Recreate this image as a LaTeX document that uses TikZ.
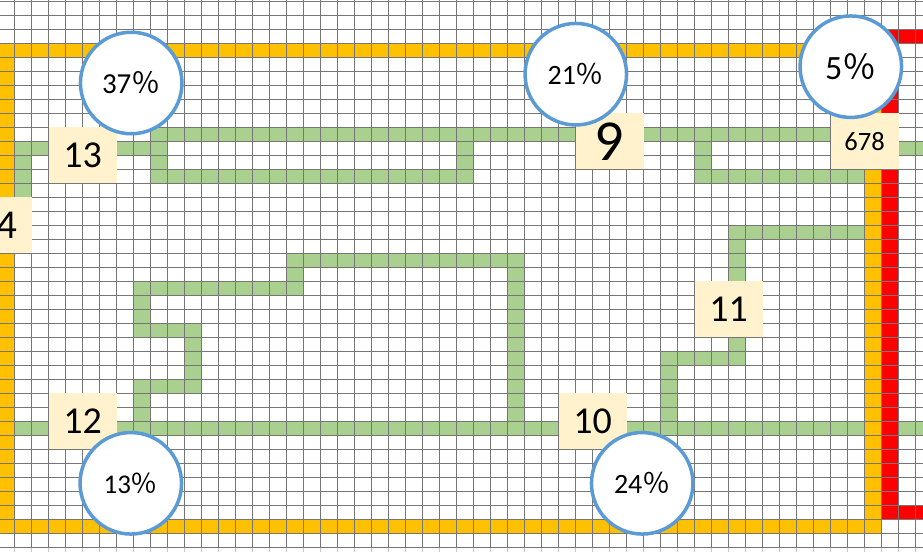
\documentclass[tikz,border=0pt]{standalone}
\usepackage{fontspec}
\setmainfont{Carlito}
\newfontfamily\cjkfont{Noto Sans CJK JP}
\definecolor{orng}{RGB}{255,192,0}
\definecolor{grn}{RGB}{169,208,142}
\definecolor{cream}{RGB}{255,242,204}
\definecolor{gridc}{RGB}{118,118,118}
\definecolor{circb}{RGB}{91,155,213}
\definecolor{redc}{RGB}{255,0,0}
\newcommand\cells[5]{\fill[#1] ({14.6+17*((#2)-1)},{1.3+14*(#4)}) rectangle ({14.6+17*(#3)},{1.3+14*((#5)+1)});}
\newcommand\pct{{\cjkfont ％}}
\begin{document}
\begin{tikzpicture}[x=1pt,y=-1pt,
  lbl/.style={fill=cream, inner sep=0pt, minimum width=68pt, minimum height=56pt, text=black},
  circ/.style={circle, draw=circb, line width=3.5pt, fill=white, minimum size=101.5pt, inner sep=0pt, text=black},
  gridline/.style={gridc, line width=1pt}]
\useasboundingbox (0,0) rectangle (923,552);
\clip (0,0) rectangle (923,552);
\fill[white] (0,0) rectangle (923,552);
% orange frame
\cells{orng}{0}{51}{3}{3}
\cells{orng}{0}{0}{3}{37}
\cells{orng}{0}{51}{37}{37}
\cells{orng}{51}{51}{3}{37}
% red frame
\cells{redc}{52}{54}{2}{2}
\cells{redc}{52}{52}{2}{36}
\cells{redc}{52}{54}{36}{36}
% green paths
\cells{grn}{1}{2}{10}{10}
\cells{grn}{1}{1}{10}{13}
\cells{grn}{7}{8}{10}{10}
\cells{grn}{9}{9}{9}{12}
\cells{grn}{9}{33}{9}{9}
\cells{grn}{9}{27}{12}{12}
\cells{grn}{27}{27}{9}{12}
\cells{grn}{38}{48}{9}{9}
\cells{grn}{41}{41}{9}{12}
\cells{grn}{41}{50}{12}{12}
\cells{grn}{53}{54}{10}{10}
\cells{grn}{43}{50}{16}{16}
\cells{grn}{43}{43}{16}{19}
\cells{grn}{43}{43}{24}{25}
\cells{grn}{39}{43}{25}{25}
\cells{grn}{39}{39}{25}{30}
\cells{grn}{37}{50}{30}{30}
\cells{grn}{53}{54}{30}{30}
\cells{grn}{1}{2}{30}{30}
\cells{grn}{7}{32}{30}{30}
\cells{grn}{8}{8}{27}{30}
\cells{grn}{8}{11}{27}{27}
\cells{grn}{11}{11}{23}{27}
\cells{grn}{8}{11}{23}{23}
\cells{grn}{8}{8}{20}{23}
\cells{grn}{8}{17}{20}{20}
\cells{grn}{17}{17}{18}{20}
\cells{grn}{17}{30}{18}{18}
\cells{grn}{30}{30}{18}{30}
% grid
\foreach \k in {0,...,53} \draw[gridline] ({14.6+17*\k},0) -- ({14.6+17*\k},552);
\foreach \j in {0,...,39} \draw[gridline] (0,{1.3+14*\j}) -- (923,{1.3+14*\j});
\fill[white,opacity=0.6] (0,548) rectangle (923,552);
% labels
\node[lbl, font=\fontsize{38}{40}\selectfont] (n13) at (82.6,155.3) {13};
\node[lbl, font=\fontsize{38}{40}\selectfont] (n12) at (82.6,421.3) {12};
\node[lbl, font=\fontsize{38}{40}\selectfont] (n10) at (592.6,421.3) {10};
\node[lbl, font=\fontsize{38}{40}\selectfont] (n11) at (728.6,309.3) {11};
\node[lbl, font=\fontsize{58}{60}\selectfont] (n9) at (609.6,141.3) {9};
\node[lbl, font=\fontsize{26.5}{28}\selectfont] (n678) at (864.6,141.3) {678};
\node[lbl, minimum width=49pt, font=\fontsize{41}{43}\selectfont] (n4) at (7.1,225.3) {4};
% circles
\node[circ, font=\fontsize{29}{31}\selectfont] (c37) at (131.2,83) {37\pct};
\node[circ, font=\fontsize{28}{30}\selectfont] (c21) at (575.8,74.2) {21\pct};
\node[circ, font=\fontsize{34}{36}\selectfont] (c5) at (850.8,66.7) {5\pct};
\node[circ, font=\fontsize{27}{29}\selectfont] (c13) at (130.8,483.3) {13\pct};
\node[circ, font=\fontsize{28}{30}\selectfont] (c24) at (642.2,483.3) {24\pct};
\end{tikzpicture}
\end{document}
